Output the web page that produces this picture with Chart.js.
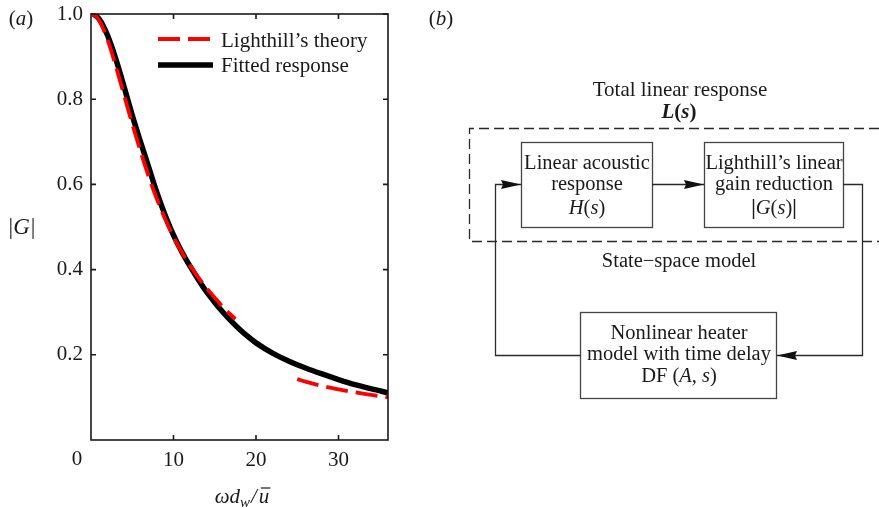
<!DOCTYPE html>
<html>
<head>
<meta charset="utf-8">
<script src="https://cdn.jsdelivr.net/npm/chart.js@4.4.1/dist/chart.umd.min.js"></script>
<style>
  html, body { margin: 0; padding: 0; background: #fff; }
  #wrap { width: 879px; height: 508px; }
</style>
</head>
<body>
<div id="wrap"><canvas id="fig" width="879" height="508"></canvas></div>
<script>
// fitted response
const fitX = [0.3, 1, 2, 3, 4, 5, 6, 7, 8, 9, 10, 11, 12, 13, 14, 15, 16, 17, 18, 19, 20, 22, 24, 26, 28, 30, 32, 34, 36]
const fitY = [1.0, 0.988, 0.950, 0.895, 0.830, 0.762, 0.700, 0.640, 0.580, 0.527, 0.481, 0.442, 0.408, 0.377, 0.348, 0.323, 0.300, 0.279, 0.260, 0.243, 0.228, 0.204, 0.185, 0.169, 0.155, 0.142, 0.130, 0.120, 0.111]

// Lighthill's theory, shown only for low and high frequencies (gap in between)
const theoryX = [0.3, 1, 2, 3, 4, 5, 6, 7, 8, 9, 10, 11, 12, 13, 14, 15, 16, 17, 17.5, 21, 25, 26, 28, 30, 32, 34, 36]
const theoryY = [1.0, 0.985, 0.940, 0.878, 0.810, 0.742, 0.678, 0.618, 0.565, 0.518, 0.477, 0.441, 0.410, 0.382, 0.357, 0.334, 0.312, 0.293, 0.284, null, 0.143, 0.137, 0.127, 0.119, 0.112, 0.106, 0.100]

const xTicks = [10, 20, 30]
const yTicks = [0.2, 0.4, 0.6, 0.8, 1.0]
const seriesNames = ['Lighthill\u2019s theory', 'Fitted response']

const SERIF = '"Liberation Serif", "Times New Roman", serif'
const INK = '#1a1a1a'
const LINE = '#2a2a2a'

const toPoints = (xs, ys) => xs.map((x, i) => ({ x, y: ys[i] }))

// draws a row of text pieces (some italic / bold / subscript) as one label
function runs(ctx, parts, x, y, align, size) {
    const fontOf = p => `${p.bold ? 'bold ' : ''}${p.italic ? 'italic ' : ''}${p.size || size}px ${SERIF}`
    let total = 0
    parts.forEach(p => { ctx.font = fontOf(p); p.w = ctx.measureText(p.t).width; total += p.w + (p.gap || 0) })
    let cx = align === 'center' ? x - total / 2 : x
    ctx.textAlign = 'left'
    ctx.textBaseline = 'alphabetic'
    parts.forEach(p => {
        ctx.font = fontOf(p)
        ctx.fillText(p.t, cx, y + (p.dy || 0))
        if (p.bar) {
            ctx.beginPath()
            ctx.lineWidth = 1.2
            ctx.moveTo(cx + 2, y - 15)
            ctx.lineTo(cx + p.w + 1, y - 15)
            ctx.stroke()
        }
        cx += p.w + (p.gap || 0)
    })
}

function arrow(ctx, pts) {
    ctx.beginPath()
    ctx.moveTo(pts[0][0], pts[0][1])
    pts.slice(1).forEach(p => ctx.lineTo(p[0], p[1]))
    ctx.stroke()
    const [ax, ay] = pts[pts.length - 2]
    const [bx, by] = pts[pts.length - 1]
    const ang = Math.atan2(by - ay, bx - ax)
    const len = 20, half = 4.5
    ctx.beginPath()
    ctx.moveTo(bx, by)
    ctx.lineTo(bx - len * Math.cos(ang) - half * Math.sin(ang), by - len * Math.sin(ang) + half * Math.cos(ang))
    ctx.lineTo(bx - len * 0.9 * Math.cos(ang), by - len * 0.9 * Math.sin(ang))
    ctx.lineTo(bx - len * Math.cos(ang) + half * Math.sin(ang), by - len * Math.sin(ang) - half * Math.cos(ang))
    ctx.closePath()
    ctx.fill()
}

const frame = {
    id: 'frame',
    afterDraw(chart) {
        const { ctx, chartArea: a, scales: { x, y } } = chart
        ctx.save()
        ctx.strokeStyle = INK
        ctx.lineWidth = 1.6
        ctx.strokeRect(a.left, a.top, a.right - a.left, a.bottom - a.top)

        // ticks point inwards on all four sides
        ctx.beginPath()
        xTicks.forEach(v => {
            const px = x.getPixelForValue(v)
            ctx.moveTo(px, a.bottom); ctx.lineTo(px, a.bottom - 5)
            ctx.moveTo(px, a.top); ctx.lineTo(px, a.top + 5)
        })
        yTicks.forEach(v => {
            const py = y.getPixelForValue(v)
            ctx.moveTo(a.left, py); ctx.lineTo(a.left + 5, py)
            ctx.moveTo(a.right, py); ctx.lineTo(a.right - 5, py)
        })
        ctx.stroke()

        ctx.fillStyle = INK
        ctx.strokeStyle = INK
        // origin label sits left of the axis corner
        runs(ctx, [{ t: '0' }], x.getPixelForValue(0) - 14, 465, 'center', 21)

        // legend
        const ds = chart.data.datasets
        const rows = [[39, 47], [65, 72]]
        ds.forEach((d, i) => {
            ctx.save()
            ctx.strokeStyle = d.borderColor
            ctx.lineWidth = d.borderWidth
            ctx.setLineDash(d.borderDash || [])
            ctx.beginPath()
            ctx.moveTo(158, rows[i][0])
            ctx.lineTo(i === 0 ? 210 : 213, rows[i][0])
            ctx.stroke()
            ctx.restore()
            runs(ctx, [{ t: d.label }], 221, rows[i][1], 'left', 21)
        })

        // axis titles and panel letter
        runs(ctx, [{ t: '(' }, { t: 'a', italic: true }, { t: ')' }], 21, 25, 'center', 21)
        runs(ctx, [{ t: '|' }, { t: 'G', italic: true, gap: 1 }, { t: '|' }], 22, 234, 'center', 23)
        runs(ctx, [
            { t: '\u03c9', italic: true },
            { t: 'd', italic: true },
            { t: 'w', italic: true, size: 15, dy: 4, gap: 1 },
            { t: '/', italic: true, gap: 2 },
            { t: 'u', italic: true, bar: true }
        ], 242, 503, 'center', 21)
        ctx.restore()
    }
}

const diagram = {
    id: 'diagram',
    afterDraw(chart) {
        const ctx = chart.ctx
        ctx.save()
        ctx.fillStyle = INK
        ctx.strokeStyle = LINE

        runs(ctx, [{ t: '(' }, { t: 'b', italic: true }, { t: ')' }], 441, 25, 'center', 21)

        runs(ctx, [{ t: 'Total linear response' }], 680, 96, 'center', 21)
        runs(ctx, [{ t: 'L', italic: true, bold: true }, { t: '(', bold: true }, { t: 's', italic: true, bold: true }, { t: ')', bold: true }], 679, 118, 'center', 21)

        // dashed enclosure of the linear part
        ctx.save()
        ctx.lineWidth = 1.3
        ctx.setLineDash([10, 5])
        ctx.beginPath()
        ctx.moveTo(879, 128.5); ctx.lineTo(469.5, 128.5); ctx.lineTo(469.5, 241.5); ctx.lineTo(879, 241.5)
        ctx.stroke()
        ctx.restore()

        ctx.lineWidth = 1.3
        ctx.strokeStyle = '#444'
        ctx.strokeRect(521.5, 142.5, 131, 85)
        ctx.strokeRect(704.5, 142.5, 139, 85)
        ctx.strokeRect(580.5, 312.5, 196, 86)

        runs(ctx, [{ t: 'Linear acoustic' }], 587, 169, 'center', 20.5)
        runs(ctx, [{ t: 'response' }], 587, 190, 'center', 20.5)
        runs(ctx, [{ t: 'H', italic: true }, { t: '(' }, { t: 's', italic: true }, { t: ')' }], 587, 214, 'center', 20.5)

        runs(ctx, [{ t: 'Lighthill\u2019s linear' }], 774, 169, 'center', 20.5)
        runs(ctx, [{ t: 'gain reduction' }], 774, 190, 'center', 20.5)
        runs(ctx, [{ t: '|', bold: true }, { t: 'G', italic: true }, { t: '(' }, { t: 's', italic: true }, { t: ')' }, { t: '|', bold: true }], 774, 214, 'center', 20.5)

        runs(ctx, [{ t: 'Nonlinear heater' }], 679, 339, 'center', 20.5)
        runs(ctx, [{ t: 'model with time delay' }], 679, 360, 'center', 20.5)
        runs(ctx, [{ t: 'DF (' }, { t: 'A', italic: true }, { t: ', ' }, { t: 's', italic: true }, { t: ')' }], 679, 382, 'center', 20.5)

        runs(ctx, [{ t: 'State\u2212space model' }], 679, 267, 'center', 20.5)

        ctx.strokeStyle = LINE
        ctx.fillStyle = '#111'
        ctx.lineWidth = 1.3
        arrow(ctx, [[652, 184.5], [704, 184.5]])
        arrow(ctx, [[843, 184.5], [862.5, 184.5], [862.5, 355.5], [777, 355.5]])
        arrow(ctx, [[580, 355.5], [495.5, 355.5], [495.5, 184.5], [521, 184.5]])
        ctx.restore()
    }
}

new Chart(document.getElementById('fig'), {
    type: 'line',
    data: {
        datasets: [
            {
                label: seriesNames[0],
                data: toPoints(theoryX, theoryY),
                borderColor: '#ff0000',
                borderWidth: 3.8,
                borderDash: [22, 8],
                pointRadius: 0,
                fill: false,
                spanGaps: false,
                cubicInterpolationMode: 'monotone'
            },
            {
                label: seriesNames[1],
                data: toPoints(fitX, fitY),
                borderColor: '#000000',
                borderWidth: 5.5,
                pointRadius: 0,
                fill: false,
                cubicInterpolationMode: 'monotone'
            }
        ]
    },
    options: {
        responsive: false,
        animation: false,
        devicePixelRatio: 1,
        layout: { padding: { left: 0, top: 14, right: 491, bottom: 0 } },
        plugins: { legend: { display: false }, tooltip: { enabled: false } },
        scales: {
            x: {
                type: 'linear',
                min: 0,
                max: 36,
                grid: { display: false, drawTicks: false },
                border: { display: false },
                afterBuildTicks: s => { s.ticks = xTicks.map(v => ({ value: v })) },
                afterFit: s => { s.height = 68; s.paddingLeft = 0; s.paddingRight = 0 },
                ticks: { font: { family: SERIF, size: 21 }, color: INK, padding: 8, maxRotation: 0, autoSkip: false }
            },
            y: {
                type: 'linear',
                min: 0,
                max: 1,
                grid: { display: false, drawTicks: false },
                border: { display: false },
                afterBuildTicks: s => { s.ticks = yTicks.map(v => ({ value: v })) },
                afterFit: s => { s.width = 91; s.paddingTop = 0; s.paddingBottom = 0 },
                ticks: { font: { family: SERIF, size: 21 }, color: INK, padding: 8, autoSkip: false, callback: v => v.toFixed(1) }
            }
        }
    },
    plugins: [frame, diagram]
})
</script>
</body>
</html>
